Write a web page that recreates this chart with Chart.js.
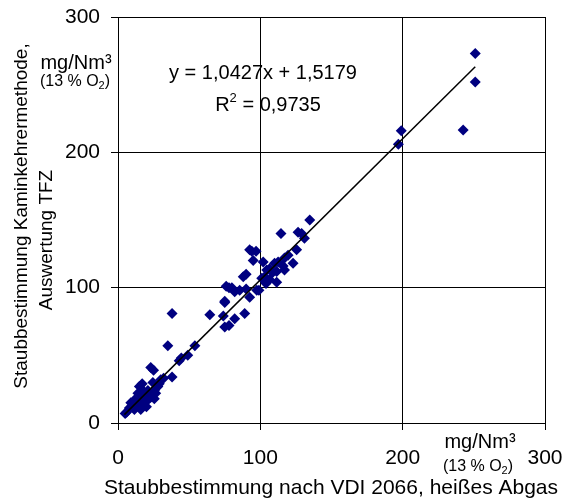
<!DOCTYPE html>
<html lang="de">
<head>
    <meta charset="UTF-8">
    <title>Staubbestimmung Vergleich</title>
    <script src="https://cdn.jsdelivr.net/npm/chart.js"></script>
    <style>
        html, body {
            margin: 0;
            padding: 0;
            background: #fff;
        }
        #wrap {
            width: 564px;
            height: 501px;
            position: relative;
        }
    </style>
</head>
<body>
    <div id="wrap">
        <canvas id="chart"></canvas>
    </div>

    <script>
        // Messwerte: VDI 2066 (x) gegen Kaminkehrermethode (y), mg/Nm³
        const vdiValues = [
            5, 6, 8, 9, 11.5, 11.5, 12.5, 14, 15, 16,
            16, 17, 17, 17.5, 18.5, 20, 21, 21, 23, 23,
            25, 24.5, 25.5, 25.5, 26.5, 28, 29, 30, 32, 35,
            38, 38, 43, 44.5, 49, 54, 64.5, 74, 75, 75,
            75, 76, 78, 78, 80, 82, 82, 85.5, 88, 89,
            90, 90, 92.5, 92.5, 94, 95, 97, 97.5, 99, 101,
            102, 103, 104, 104.5, 106.5, 106.5, 108.5, 110, 111.5, 111.5,
            112.5, 114.5, 116, 117, 117, 119.5, 123, 125.5, 126.5, 129,
            131, 134.7, 197, 199, 242.5, 251, 251
        ];
        const kaminValues = [
            7, 8, 11, 15, 10, 17, 13, 22, 27, 10,
            17, 15, 29, 24, 21, 12, 17, 24, 19, 41,
            39, 30, 18, 24, 22, 27, 29, 32, 33, 57,
            34, 81, 46, 48, 50, 57, 80, 79, 71, 89,
            90, 101, 72, 100, 100, 97, 77, 98, 108, 81,
            110, 99, 93, 128, 127, 120, 127, 98, 98, 107,
            119, 108, 103, 113, 114, 106, 111, 118, 112, 104,
            119, 140, 116, 113, 122, 124, 118, 128, 141, 140,
            136.5, 150, 206, 216, 216.5, 252, 273
        ];
        const axisTicks = [0, 100, 200, 300];

        // Trendlinie laut Diagramm
        const slope = 1.0427;
        const intercept = 1.5179;
        const trendFrom = 4.5;
        const trendTo = 251;

        const points = vdiValues.map((x, i) => ({ x: x, y: kaminValues[i] }));
        const trend = [trendFrom, trendTo].map(x => ({ x: x, y: slope * x + intercept }));

        const FONT = 'Arial, "Liberation Sans", sans-serif';

        // Text mit tiefgestelltem/hochgestelltem Zeichen, zentriert um cx
        function drawParts(ctx, parts, cx, cy) {
            ctx.save();
            ctx.textAlign = 'left';
            ctx.textBaseline = 'middle';
            let total = 0;
            parts.forEach(p => {
                ctx.font = p.size + 'px ' + FONT;
                p.w = ctx.measureText(p.t).width;
                total += p.w;
            });
            let x = cx - total / 2;
            parts.forEach(p => {
                ctx.font = p.size + 'px ' + FONT;
                ctx.fillText(p.t, x, cy + (p.dy || 0));
                x += p.w;
            });
            ctx.restore();
        }

        // Achsentitel und Einheiten
        const labelsPlugin = {
            id: 'labels',
            afterDraw(chart) {
                const ctx = chart.ctx;
                ctx.save();
                ctx.fillStyle = '#000';
                ctx.textBaseline = 'middle';
                ctx.textAlign = 'center';

                // Gleichung
                ctx.font = '20px ' + FONT;
                ctx.fillText('y = 1,0427x + 1,5179', 263, 73);
                drawParts(ctx, [
                    { t: 'R', size: 20 },
                    { t: '2', size: 13, dy: -7 },
                    { t: ' = 0,9735', size: 20 }
                ], 268, 105);

                // x-Achse
                ctx.font = '21px ' + FONT;
                ctx.fillText('Staubbestimmung nach VDI 2066, heißes Abgas', 331, 488);
                ctx.font = '20px ' + FONT;
                ctx.fillText('mg/Nm³', 480, 442);
                drawParts(ctx, [
                    { t: '(13 % O', size: 16 },
                    { t: '2', size: 11, dy: 4 },
                    { t: ')', size: 16 }
                ], 478, 467);

                // y-Achse Einheit
                ctx.font = '20px ' + FONT;
                ctx.fillText('mg/Nm³', 76, 63);
                drawParts(ctx, [
                    { t: '(13 % O', size: 16 },
                    { t: '2', size: 11, dy: 4 },
                    { t: ')', size: 16 }
                ], 75, 82);

                // y-Achse Titel (gedreht)
                ctx.font = '19px ' + FONT;
                ctx.save();
                ctx.translate(22, 216);
                ctx.rotate(-Math.PI / 2);
                ctx.fillText('Staubbestimmung Kaminkehrermethode,', 0, 0);
                ctx.restore();
                ctx.save();
                ctx.translate(47, 240);
                ctx.rotate(-Math.PI / 2);
                ctx.fillText('Auswertung TFZ', 0, 0);
                ctx.restore();
                ctx.restore();
            }
        };

        const ctx = document.getElementById('chart').getContext('2d');
        new Chart(ctx, {
            type: 'scatter',
            data: {
                datasets: [
                    {
                        label: 'Messwerte',
                        data: points,
                        backgroundColor: '#000080',
                        borderColor: '#000080',
                        borderWidth: 0,
                        pointStyle: 'rectRot',
                        pointRadius: 5.5,
                        order: 2
                    },
                    {
                        type: 'line',
                        label: 'Trend',
                        data: trend,
                        borderColor: '#000',
                        borderWidth: 1.5,
                        pointRadius: 0,
                        fill: false,
                        order: 1
                    }
                ]
            },
            options: {
                responsive: true,
                maintainAspectRatio: false,
                animation: false,
                layout: { padding: { left: 0, top: 17, right: 19, bottom: 0 } },
                plugins: {
                    legend: { display: false },
                    tooltip: { enabled: false }
                },
                scales: {
                    x: {
                        type: 'linear',
                        min: 0,
                        max: 300,
                        afterBuildTicks: s => { s.ticks = axisTicks.map(v => ({ value: v })); },
                        afterFit: s => { s.height = 78; s.paddingLeft = 0; s.paddingRight = 0; },
                        grid: { color: '#000', tickColor: '#000', tickLength: 7, lineWidth: 1 },
                        border: { color: '#000', width: 1 },
                        ticks: { color: '#000', font: { family: FONT, size: 21 }, padding: 16, maxRotation: 0 }
                    },
                    y: {
                        type: 'linear',
                        min: 0,
                        max: 300,
                        afterBuildTicks: s => { s.ticks = axisTicks.map(v => ({ value: v })); },
                        afterFit: s => { s.width = 118; s.paddingTop = 0; s.paddingBottom = 0; },
                        grid: { color: '#000', tickColor: '#000', tickLength: 7, lineWidth: 1 },
                        border: { color: '#000', width: 1 },
                        ticks: { color: '#000', font: { family: FONT, size: 21 }, padding: 11 }
                    }
                }
            },
            plugins: [labelsPlugin]
        });
    </script>
</body>
</html>
